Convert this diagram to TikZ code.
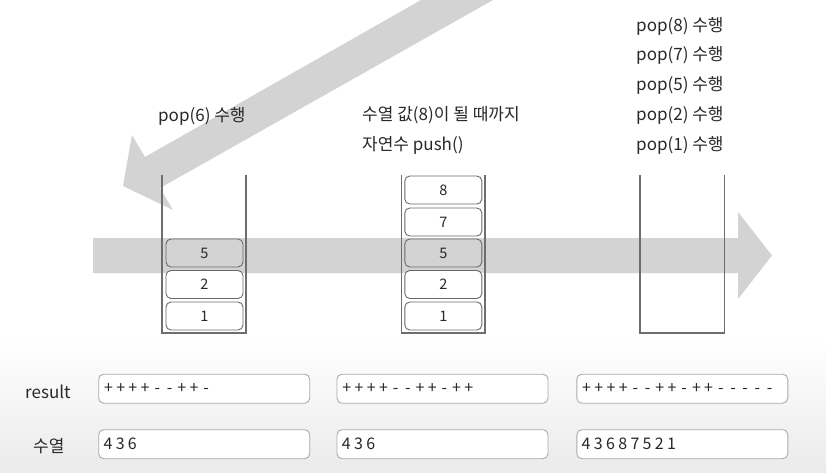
\documentclass[tikz,border=0pt]{standalone}
\usepackage{fontspec}
\setmainfont{Noto Sans CJK KR}
\definecolor{arrowgray}{RGB}{211,211,211}
\definecolor{wallgray}{RGB}{110,110,110}
\definecolor{boxgray}{RGB}{105,105,105}
\definecolor{resgray}{RGB}{170,170,170}
\definecolor{txt}{RGB}{40,40,40}
\newcommand\spreadchars[1]{\spreadloop#1\relax}
\def\spreadloop#1{\ifx#1\relax\else\makebox[12.2pt][c]{#1}\expandafter\spreadloop\fi}
\tikzset{
  bigarrow/.style={fill=arrowgray, draw=none},
  wall/.style={draw=wallgray, line width=1.1pt},
  stackbox/.style={draw=boxgray, line width=0.9pt, rounded corners=5pt, minimum width=77pt, minimum height=28pt, inner sep=0pt, text=txt, font=\fontsize{14.5}{16}\selectfont},
  resbox/.style={draw=resgray, line width=0.9pt, fill=white, rounded corners=5pt, minimum width=211pt, minimum height=29pt, inner sep=0pt},
  restext/.style={anchor=west, inner sep=0pt, text=txt, font=\fontsize{16}{19}\selectfont},
  label/.style={anchor=west, inner sep=0pt, text=txt, font=\fontsize{17}{20}\selectfont},
}
\begin{document}
\begin{tikzpicture}[x=1pt,y=-1pt]
\useasboundingbox (0,0) rectangle (826,473);
\fill[white] (0,0) rectangle (826,473);
\shade[top color=white, bottom color=black!8] (0,338) rectangle (826,473);
\clip (0,0) rectangle (826,473);
% diagonal arrow
\fill[bigarrow] (123,186) -- (173,210) -- (160,188) -- (559.6,-37.6) -- (476.2,-31.4) -- (145,157) -- (132,135) -- cycle;
% horizontal arrow
\fill[bigarrow] (93,238) -- (738,238) -- (738,212) -- (772,255.5) -- (738,299) -- (738,273) -- (93,273) -- cycle;
% stacks
\draw[wall] (162,175) -- (162,333) -- (246,333) -- (246,175);
\draw[wall] (401.7,175) -- (401.7,333) -- (485,333) -- (485,175);
\draw[wall] (640,175) -- (640,333) -- (724.3,333) -- (724.3,175);
\node[stackbox] (a5) at (204.5,253) {5};
\node[stackbox, fill=white] (a2) at (204.5,284.5) {2};
\node[stackbox, fill=white] (a1) at (204.5,316) {1};
\node[stackbox, fill=white] (b8) at (443.3,190) {8};
\node[stackbox, fill=white] (b7) at (443.3,222) {7};
\node[stackbox] (b5) at (443.3,253) {5};
\node[stackbox, fill=white] (b2) at (443.3,284.5) {2};
\node[stackbox, fill=white] (b1) at (443.3,316) {1};
% labels
\node[label] (t1) at (158,116) {pop(6) 수행};
\node[label] (t2) at (362,115) {수열 값(8)이 될 때까지};
\node[label] (t3) at (362,145) {자연수 push()};
\node[label] (p8) at (636,26) {pop(8) 수행};
\node[label] (p7) at (636,55.5) {pop(7) 수행};
\node[label] (p5) at (636,85) {pop(5) 수행};
\node[label] (p2) at (636,115) {pop(2) 수행};
\node[label] (p1) at (636,145) {pop(1) 수행};
% bottom
\node[label] (lres) at (25,391.5) {result};
\node[label] (lseq) at (33,446.5) {수열};
\node[resbox] (r1) at (204.2,388.7) {};
\node[resbox] (r2) at (442.5,388.7) {};
\node[resbox] (r3) at (682.3,388.7) {};
\node[resbox] (s1) at (204.2,444.2) {};
\node[resbox] (s2) at (442.5,444.2) {};
\node[resbox] (s3) at (682.3,444.2) {};
\node[restext] at ([xshift=4pt]r1.west) {\spreadchars{++++--++-}};
\node[restext] at ([xshift=4pt]r2.west) {\spreadchars{++++--++-++}};
\node[restext] at ([xshift=4pt]r3.west) {\spreadchars{++++--++-++-----}};
\node[restext] at ([xshift=3.5pt]s1.west) {\spreadchars{436}};
\node[restext] at ([xshift=3.5pt]s2.west) {\spreadchars{436}};
\node[restext] at ([xshift=3.5pt]s3.west) {\spreadchars{43687521}};
\end{tikzpicture}
\end{document}
